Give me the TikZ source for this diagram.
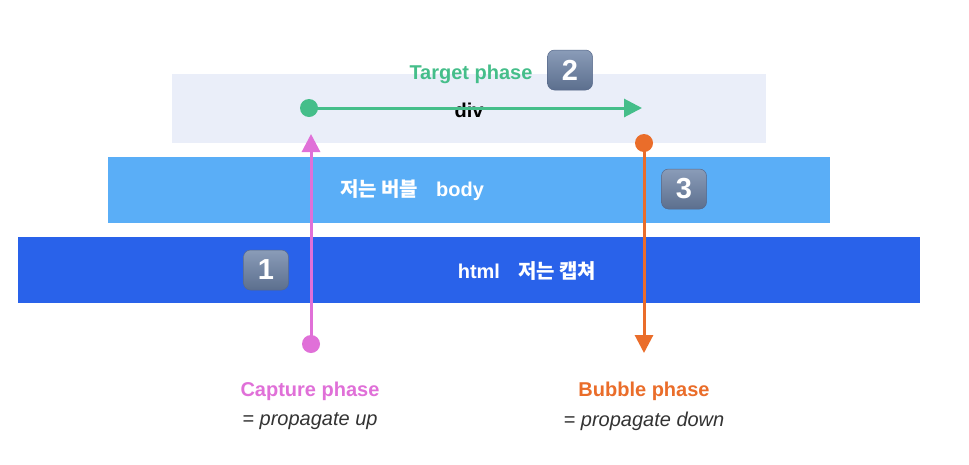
\documentclass[tikz,border=0pt]{standalone}
\usepackage{fontspec}
\setmainfont{Liberation Sans}
\newfontfamily\kr{Noto Sans CJK KR}
\usetikzlibrary{arrows.meta}
\definecolor{divc}{HTML}{EAEEF9}
\definecolor{bodyc}{HTML}{5AAEF7}
\definecolor{htmlc}{HTML}{2962EA}
\definecolor{greenc}{HTML}{45BE8A}
\definecolor{pinkc}{HTML}{E070D8}
\definecolor{orangec}{HTML}{EA6D2A}
\definecolor{badgetop}{HTML}{8A9CB8}
\definecolor{badgebot}{HTML}{5C6F8E}
\definecolor{badgeline}{HTML}{56688A}
\definecolor{txtgray}{HTML}{333333}
\tikzset{
  layer/.style={draw=none, inner sep=0pt, anchor=north west},
  badge/.style={draw=badgeline, line width=0.5pt, rounded corners=7pt, top color=badgetop, bottom color=badgebot,
    minimum width=45pt, minimum height=40pt, inner sep=0pt, text=white, font=\fontsize{29}{29}\selectfont\bfseries},
  lbl/.style={font=\fontsize{20}{21}\selectfont\bfseries, inner sep=0pt},
  sub/.style={font=\fontsize{20}{21}\selectfont\itshape, text=txtgray, inner sep=0pt},
  flow/.style={line width=3pt, -{Triangle[length=18pt,width=18pt]}},
  dotc/.style={circle, fill=#1, minimum size=18pt, inner sep=0pt},
}
\begin{document}
\begin{tikzpicture}[x=1pt,y=-1pt]
\useasboundingbox[fill=white] (0,0) rectangle (969,464);
% layers
\node[layer, fill=divc, minimum width=594pt, minimum height=69pt] (div) at (172,74) {};
\node[layer, fill=bodyc, minimum width=722pt, minimum height=66pt] (body) at (108,157) {};
\node[layer, fill=htmlc, minimum width=902pt, minimum height=66pt] (html) at (18,237) {};
% texts in layers
\node[lbl, text=black] (divt) at (469,110) {div};
\node[lbl, text=white] (bodyt) at (412,190) {{\kr\bfseries 저는 버블}\hspace{18pt}body};
\node[lbl, text=white] (htmlt) at (527,271) {html\hspace{18pt}{\kr\bfseries 저는 캡쳐}};
% badges
\node[badge] (b2) at (570,70) {2};
\node[badge] (b3) at (684,189) {3};
\node[badge] (b1) at (266,270) {1};
% phase labels
\node[lbl, text=greenc] (tp) at (471,74) {Target phase};
\node[lbl, text=pinkc] (cp) at (310,391) {Capture phase};
\node[sub] (cps) at (310,421) {= propagate up};
\node[lbl, text=orangec] (bp) at (644,391) {Bubble phase};
\node[sub] (bps) at (644,421) {= propagate down};
% dots and tips
\node[dotc=greenc] (gs) at (309,108) {};
\coordinate (ge) at (642,108);
\node[dotc=pinkc] (ps) at (311,344) {};
\coordinate (pe) at (311,134);
\node[dotc=orangec] (os) at (644,143) {};
\coordinate (oe) at (644,353);
% arrows
\draw[flow, greenc] (gs.center) -- (ge);
\draw[flow, pinkc] (ps.center) -- (pe);
\draw[flow, orangec] (os.center) -- (oe);
\end{tikzpicture}
\end{document}
